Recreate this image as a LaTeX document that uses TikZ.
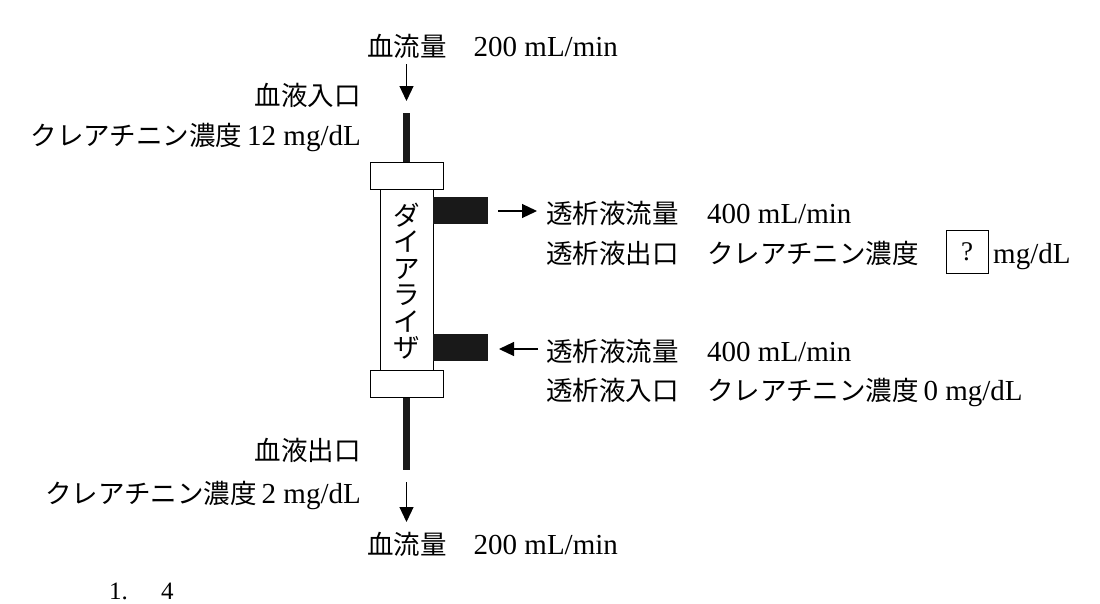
\documentclass[tikz,border=0pt]{standalone}
\usepackage{fontspec}
\setmainfont{Liberation Serif}
\newfontfamily\jp{Noto Sans CJK JP}
\usetikzlibrary{arrows.meta}
\newcommand{\J}[1]{{\jp\fontsize{26.5}{30}\selectfont #1}}
\begin{document}
\begin{tikzpicture}[x=1pt,y=-1pt,
  lbl/.style={inner sep=0pt, font=\fontsize{29}{34}\selectfont},
  flowarrow/.style={line width=1.2pt, -{Triangle[length=15pt,width=14pt]}},
  tube/.style={line width=6.5pt, color=black!90},
  capbox/.style={draw, line width=1pt, fill=white, minimum width=73pt, minimum height=27pt, inner sep=0pt},
  bodybox/.style={draw, line width=1pt, fill=white, minimum width=53pt, minimum height=181pt, inner sep=0pt},
  port/.style={fill=black!90, minimum width=55pt, minimum height=27pt, inner sep=0pt},
  qbox/.style={draw, line width=1pt, minimum width=42pt, minimum height=43pt, inner sep=0pt, font=\fontsize{27}{30}\selectfont}]
\useasboundingbox (0,0) rectangle (1100,603);
\clip (0,0) rectangle (1100,603);

% dialyzer
\node[bodybox] (body) at (406.5,279.5) {};
\node[capbox] (topcap) at (406.5,175.5) {};
\node[capbox] (botcap) at (406.5,383.5) {};
\node[inner sep=0pt, align=center, font=\jp\fontsize{26.5}{26.5}\selectfont] (name) at (406.5,281) {ダ\\イ\\ア\\ラ\\イ\\ザ};
\node[port] (portout) at (460.5,210.5) {};
\node[port] (portin) at (460.5,347.5) {};

% tubes
\coordinate (toptubeend) at (406.5,113);
\coordinate (bottubeend) at (406.5,470);
\draw[tube] (topcap.north) -- (toptubeend);
\draw[tube] (botcap.south) -- (bottubeend);

% arrows
\coordinate (a1s) at (406.5,64);
\coordinate (a1e) at (406.5,101);
\coordinate (a2s) at (406.5,482);
\coordinate (a2e) at (406.5,522);
\coordinate (a3s) at (498,211);
\coordinate (a3e) at (537,211);
\coordinate (a4s) at (538,349);
\coordinate (a4e) at (499,349);
\draw[flowarrow] (a1s) -- (a1e);
\draw[flowarrow] (a2s) -- (a2e);
\draw[flowarrow] (a3s) -- (a3e);
\draw[flowarrow] (a4s) -- (a4e);

% labels top / bottom
\node[lbl, anchor=base west] (topflow) at (367,56) {\J{血流量}\hspace{27pt}200 mL/min};
\node[lbl, anchor=base west] (botflow) at (367,554) {\J{血流量}\hspace{27pt}200 mL/min};

% left labels
\node[lbl, anchor=base east] (inlab) at (361,105) {\J{血液入口}};
\node[lbl, anchor=base east] (inconc) at (361,145) {\J{クレアチニン濃度}\,12 mg/dL};
\node[lbl, anchor=base east] (outlab) at (361,460) {\J{血液出口}};
\node[lbl, anchor=base east] (outconc) at (361,503) {\J{クレアチニン濃度}\,2 mg/dL};

% right labels
\node[lbl, anchor=base west] (dflow1) at (546,223) {\J{透析液流量}};
\node[lbl, anchor=base west] (dflow1v) at (707,223) {400 mL/min};
\node[lbl, anchor=base west] (dout) at (546,263) {\J{透析液出口}};
\node[lbl, anchor=base west] (doutc) at (707,263) {\J{クレアチニン濃度}};
\node[qbox] (q) at (967,252) {?};
\node[lbl, anchor=base west] (unit) at (993,263) {mg/dL};
\node[lbl, anchor=base west] (dflow2) at (546,361) {\J{透析液流量}};
\node[lbl, anchor=base west] (dflow2v) at (707,361) {400 mL/min};
\node[lbl, anchor=base west] (din) at (546,400) {\J{透析液入口}};
\node[lbl, anchor=base west] (dinc) at (707,400) {\J{クレアチニン濃度}\,0 mg/dL};

% bottom numbering
\node[inner sep=0pt, anchor=base west, font=\fontsize{25}{28}\selectfont] (n1) at (109,599) {1.};
\node[inner sep=0pt, anchor=base west, font=\fontsize{25}{28}\selectfont] (n4) at (161,599) {4};
\end{tikzpicture}
\end{document}
